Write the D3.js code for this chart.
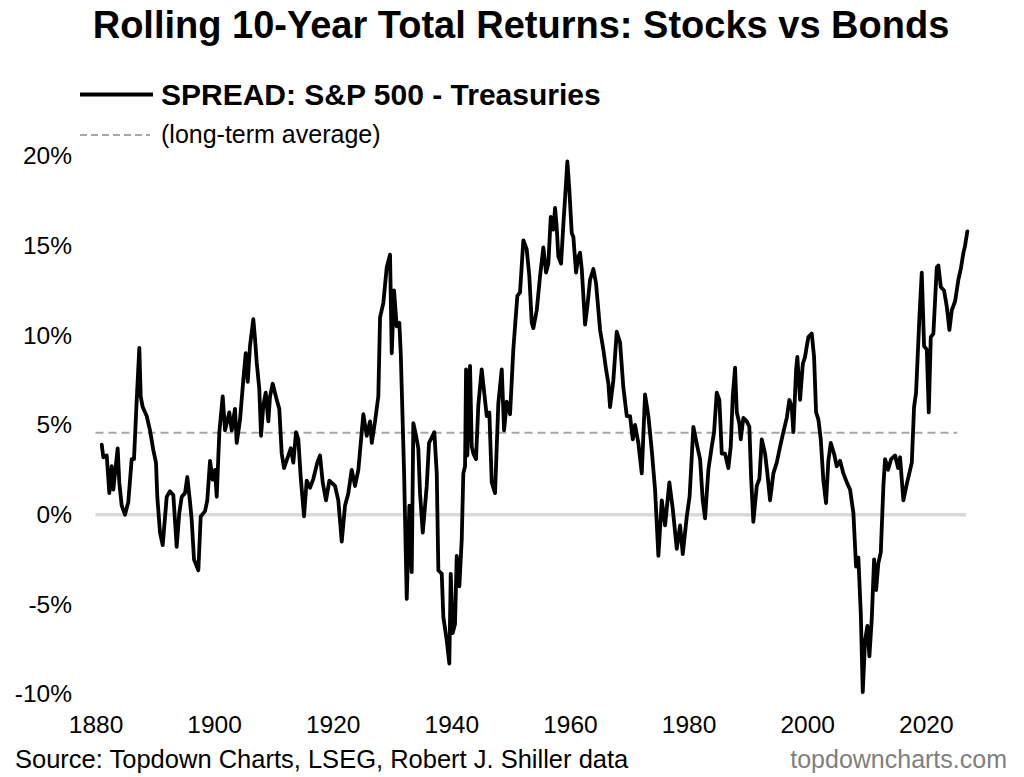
<!DOCTYPE html>
<html>
<head>
<meta charset="utf-8">
<script src="https://cdn.jsdelivr.net/npm/d3@7"></script>
<style>
  html, body { margin: 0; padding: 0; background: #fff; }
  svg { display: block; font-family: "Liberation Sans", Arial, sans-serif; }
</style>
</head>
<body>
<svg id="chart" width="1024" height="777"></svg>
<script>
// Rolling 10-year spread, S&P 500 minus Treasuries (%)
const years = [
  1881.05, 1881.32, 1881.89, 1882.33, 1882.73, 1883.00, 1883.74, 1884.01, 1884.42, 1884.97,
  1885.53, 1886.10, 1886.49, 1886.95, 1887.39, 1887.62, 1887.96, 1888.63, 1889.19, 1889.75,
  1890.20, 1890.42, 1890.88, 1891.33, 1892.01, 1892.56, 1893.12, 1893.69, 1894.13, 1894.54,
  1895.09, 1895.48, 1895.94, 1896.22, 1896.61, 1897.34, 1897.74, 1898.47, 1898.85, 1899.31,
  1899.76, 1900.15, 1900.44, 1900.88, 1901.45, 1901.84, 1902.56, 1902.97, 1903.52, 1903.81,
  1904.37, 1904.92, 1905.33, 1905.67, 1906.05, 1906.61, 1906.90, 1907.18, 1907.62, 1907.91,
  1908.30, 1908.70, 1909.14, 1909.43, 1909.88, 1910.56, 1910.99, 1911.40, 1911.79, 1912.51,
  1912.92, 1913.36, 1913.81, 1914.20, 1914.60, 1915.16, 1915.61, 1916.17, 1916.73, 1917.40,
  1917.86, 1918.31, 1918.87, 1919.43, 1920.39, 1920.94, 1921.52, 1922.07, 1922.63, 1923.20,
  1923.76, 1924.32, 1924.89, 1925.16, 1925.73, 1926.29, 1926.58, 1927.13, 1927.69, 1927.98,
  1928.53, 1929.11, 1929.66, 1929.95, 1930.34, 1930.79, 1931.23, 1931.47, 1932.02, 1932.48,
  1932.92, 1933.32, 1933.59, 1934.05, 1934.43, 1934.72, 1935.18, 1935.85, 1936.24, 1936.69,
  1937.13, 1937.54, 1937.81, 1938.38, 1938.65, 1939.22, 1939.66, 1939.90, 1940.23, 1940.62,
  1940.91, 1941.35, 1941.75, 1942.02, 1942.31, 1942.48, 1942.70, 1943.15, 1943.44, 1943.71,
  1944.16, 1944.55, 1945.12, 1945.97, 1946.41, 1946.81, 1947.37, 1947.92, 1948.50, 1948.89,
  1949.34, 1949.90, 1950.45, 1950.74, 1951.13, 1951.58, 1952.14, 1952.71, 1953.15, 1953.56,
  1953.83, 1954.40, 1954.96, 1955.51, 1955.97, 1956.36, 1956.76, 1957.20, 1957.49, 1957.77,
  1958.04, 1958.50, 1958.89, 1959.34, 1959.56, 1959.90, 1960.30, 1960.57, 1961.03, 1961.42,
  1961.70, 1961.99, 1962.55, 1962.93, 1963.39, 1963.95, 1964.40, 1965.08, 1965.63, 1966.09,
  1966.48, 1966.76, 1967.32, 1967.89, 1968.45, 1969.00, 1969.58, 1970.13, 1970.59, 1970.98,
  1971.53, 1972.11, 1972.66, 1973.22, 1973.79, 1974.35, 1974.91, 1975.48, 1976.04, 1976.76,
  1977.34, 1978.01, 1978.57, 1979.02, 1979.70, 1980.17, 1980.81, 1981.48, 1981.94, 1982.39,
  1982.78, 1983.34, 1983.91, 1984.30, 1984.75, 1985.19, 1985.60, 1986.15, 1986.71, 1987.11,
  1987.45, 1987.84, 1988.13, 1988.56, 1988.80, 1989.24, 1989.81, 1990.25, 1990.54, 1990.92,
  1991.50, 1991.94, 1992.34, 1992.90, 1993.29, 1993.74, 1994.30, 1994.87, 1995.43, 1995.98,
  1996.56, 1997.00, 1997.40, 1997.67, 1998.13, 1998.34, 1998.80, 1999.26, 1999.64, 1999.93,
  2000.20, 2000.77, 2001.16, 2001.50, 2001.89, 2002.29, 2002.73, 2003.18, 2003.57, 2003.98,
  2004.53, 2004.99, 2005.55, 2006.10, 2006.68, 2007.23, 2007.79, 2008.24, 2008.63, 2009.04,
  2009.37, 2009.76, 2010.15, 2010.49, 2010.89, 2011.28, 2011.62, 2012.00, 2012.41, 2012.85,
  2013.13, 2013.64, 2014.15, 2014.82, 2015.33, 2015.66, 2016.22, 2016.79, 2017.64, 2018.02,
  2018.36, 2018.92, 2019.32, 2019.71, 2020.17, 2020.50, 2020.84, 2021.28, 2021.85, 2022.12,
  2022.53, 2023.08, 2023.54, 2023.98, 2024.38, 2024.94, 2025.49, 2025.90, 2026.34, 2026.62,
  2027.01
];
const spread = [
  3.9, 3.2, 3.3, 1.2, 2.7, 1.4, 3.7, 1.8, 0.5, 0.0,
  0.7, 3.1, 3.1, 6.4, 9.3, 6.6, 6.0, 5.5, 4.7, 3.6,
  2.9, 1.0, -1.0, -1.7, 1.0, 1.3, 1.1, -1.8, 0.1, 1.0,
  1.2, 2.1, 0.7, -0.3, -2.5, -3.1, -0.1, 0.2, 0.8, 3.0,
  1.95, 2.5, 1.0, 4.6, 6.6, 4.7, 5.7, 4.7, 5.9, 4.0,
  5.3, 7.5, 9.0, 7.4, 9.4, 10.9, 9.8, 8.5, 7.0, 4.4,
  6.1, 6.8, 5.2, 6.6, 7.3, 6.4, 5.9, 3.4, 2.6, 3.3,
  3.7, 2.9, 4.6, 4.2, 2.1, -0.1, 1.9, 1.5, 2.0, 2.9,
  3.3, 1.8, 0.8, 1.9, 1.6, 0.8, -1.5, 0.5, 1.2, 2.5,
  1.6, 2.5, 4.6, 5.6, 4.4, 5.2, 4.0, 5.2, 6.6, 11.0,
  11.8, 13.8, 14.5, 9.0, 12.5, 10.5, 10.7, 9.0, 2.5, -4.7,
  0.5, -3.2, 5.1, 4.4, 3.7, 1.2, -1.0, 1.6, 4.0, 4.3,
  4.6, 2.3, -3.1, -3.3, -5.7, -7.0, -8.3, -3.3, -6.6, -6.1,
  -2.3, -4.0, -1.4, 2.3, 2.7, 8.1, 3.3, 8.3, 3.8, 3.4,
  3.1, 6.1, 8.1, 5.5, 5.7, 1.8, 1.2, 6.2, 8.1, 4.7,
  6.3, 5.6, 9.2, 10.5, 12.2, 12.4, 15.3, 14.8, 13.3, 10.7,
  10.4, 11.4, 13.3, 14.9, 13.5, 14.0, 16.6, 15.9, 17.1, 16.0,
  14.4, 14.0, 16.2, 18.5, 19.7, 18.1, 15.7, 15.5, 13.5, 14.4,
  14.6, 13.7, 10.6, 11.6, 13.1, 13.7, 12.9, 10.3, 9.2, 8.1,
  7.3, 6.0, 7.5, 10.2, 9.6, 7.1, 5.5, 5.5, 4.2, 5.0,
  4.0, 2.3, 6.7, 5.5, 3.6, 1.4, -2.3, 0.8, -0.6, 1.8,
  0.3, -1.9, -0.6, -2.2, -0.1, 1.0, 4.9, 3.8, 3.1, 0.8,
  -0.2, 2.5, 3.8, 4.6, 6.8, 6.4, 3.4, 3.4, 2.6, 3.8,
  6.6, 8.2, 5.7, 5.1, 4.2, 5.4, 5.2, 4.9, 2.1, -0.4,
  1.6, 2.0, 4.2, 3.4, 2.3, 0.8, 2.3, 2.9, 3.8, 4.6,
  5.4, 6.4, 6.0, 4.6, 8.1, 8.8, 6.4, 8.4, 8.8, 9.4,
  9.9, 10.1, 8.8, 5.7, 5.3, 4.2, 1.9, 0.65, 3.0, 4.0,
  3.4, 2.7, 3.0, 2.3, 1.8, 1.4, 0.1, -2.9, -2.4, -5.5,
  -9.9, -7.0, -6.2, -7.9, -5.8, -2.5, -4.2, -2.7, -2.1, 1.6,
  3.1, 2.5, 3.1, 3.3, 2.6, 3.2, 0.8, 1.7, 2.9, 6.0,
  6.8, 11.0, 13.5, 9.4, 9.2, 5.7, 9.9, 10.1, 13.8, 13.9,
  12.7, 12.5, 11.6, 10.3, 11.4, 11.9, 13.1, 13.7, 14.6, 15.0,
  15.8
];
const longTermAvg = 4.57;
const xTicks = [1880, 1900, 1920, 1940, 1960, 1980, 2000, 2020];
const yTicks = [-10, -5, 0, 5, 10, 15, 20];
const refLineEnd = 2026.8;   // where the zero line stops
const avgLineEnd = 2025.3;   // where the dashed average stops

const data = years.map((y, i) => ({ year: y, value: spread[i] }));

const svg = d3.select('#chart');

// scales
const xScale = d3.scaleLinear().domain([1880, 2020]).range([95.5, 925.8]);
const yScale = d3.scaleLinear().domain([-10, 20]).range([694, 156]);

// title
svg.append('text')
  .attr('x', 521)
  .attr('y', 38)
  .attr('text-anchor', 'middle')
  .attr('font-size', '38px')
  .attr('font-weight', 'bold')
  .attr('fill', '#000')
  .text('Rolling 10-Year Total Returns: Stocks vs Bonds');

// legend
const legend = svg.append('g');
legend.append('line')
  .attr('x1', 80).attr('x2', 153).attr('y1', 94.5).attr('y2', 94.5)
  .attr('stroke', '#000').attr('stroke-width', 4);
legend.append('text')
  .attr('x', 161).attr('y', 104.5)
  .attr('font-size', '30px').attr('font-weight', 'bold')
  .text('SPREAD: S&P 500 - Treasuries');
legend.append('line')
  .attr('x1', 80).attr('x2', 150).attr('y1', 135).attr('y2', 135)
  .attr('stroke', '#a6a6a6').attr('stroke-width', 2)
  .attr('stroke-dasharray', '7,4');
legend.append('text')
  .attr('x', 161).attr('y', 143)
  .attr('font-size', '25px')
  .text('(long-term average)');

// y axis labels (no axis line)
const yAxis = svg.append('g')
  .attr('transform', 'translate(72,0)')
  .call(d3.axisLeft(yScale).tickValues(yTicks).tickSize(0).tickPadding(0).tickFormat(d => d + '%'));
yAxis.select('.domain').remove();
yAxis.selectAll('text')
  .attr('font-size', '24.5px')
  .attr('font-family', '"Liberation Sans", Arial, sans-serif')
  .attr('fill', '#000');

// x axis labels
const xAxis = svg.append('g')
  .attr('transform', 'translate(0,716)')
  .call(d3.axisBottom(xScale).tickValues(xTicks).tickSize(0).tickPadding(0).tickFormat(d3.format('d')));
xAxis.select('.domain').remove();
xAxis.selectAll('text')
  .attr('font-size', '24.5px')
  .attr('font-family', '"Liberation Sans", Arial, sans-serif')
  .attr('fill', '#000');

// zero line
svg.append('line')
  .attr('x1', xScale(1880)).attr('x2', xScale(refLineEnd))
  .attr('y1', yScale(0)).attr('y2', yScale(0))
  .attr('stroke', '#d9d9d9').attr('stroke-width', 3.5);

// long-term average
svg.append('line')
  .attr('x1', xScale(1880)).attr('x2', xScale(avgLineEnd))
  .attr('y1', yScale(longTermAvg)).attr('y2', yScale(longTermAvg))
  .attr('stroke', '#a6a6a6').attr('stroke-width', 2)
  .attr('stroke-dasharray', '8,5');

// spread line
const line = d3.line()
  .x(d => xScale(d.year))
  .y(d => yScale(d.value));

svg.append('path')
  .datum(data)
  .attr('fill', 'none')
  .attr('stroke', '#000')
  .attr('stroke-width', 3.8)
  .attr('stroke-linejoin', 'round')
  .attr('stroke-linecap', 'round')
  .attr('d', line);

// footer
svg.append('text')
  .attr('x', 15).attr('y', 768)
  .attr('font-size', '25.5px')
  .attr('fill', '#000')
  .text('Source: Topdown Charts, LSEG, Robert J. Shiller data');
svg.append('text')
  .attr('x', 1007).attr('y', 768)
  .attr('text-anchor', 'end')
  .attr('font-size', '25px')
  .attr('fill', '#7f7f7f')
  .text('topdowncharts.com');
</script>
</body>
</html>
